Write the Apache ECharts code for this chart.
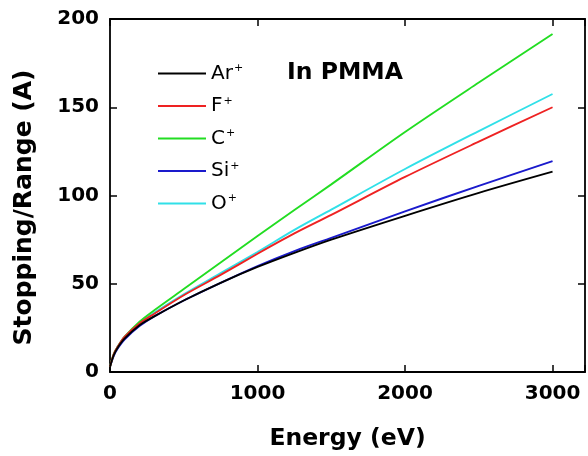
<!DOCTYPE html>
<html>
<head>
<meta charset="utf-8">
<script src="https://cdn.jsdelivr.net/npm/echarts@6/dist/echarts.min.js"></script>
<style>
  html, body { margin: 0; padding: 0; background: #fff; }
  #chart { width: 588px; height: 456px; }
</style>
</head>
<body>
<div id="chart"></div>
<script>
// energies in eV
const energy = [0, 25, 50, 100, 200, 300, 500, 750, 1000, 1250, 1500, 2000, 2500, 3000];
const arData = [3, 9.5, 13.5, 19, 26.5, 31.5, 40.5, 50.5, 59.5, 67.5, 75, 88.5, 101.5, 113.5];
const fData  = [3, 10, 14, 20, 27.5, 33, 43.5, 55, 67, 78.5, 89, 110.5, 130.5, 150];
const cData  = [3, 10, 14, 20, 28.5, 35, 47, 62, 77, 91.8, 106.3, 136, 164, 191.5];
const siData = [3, 9, 13, 18.5, 26, 31.5, 40.5, 50.5, 60, 68.5, 76, 91, 105.5, 119.5];
const oData  = [3, 10, 14, 20, 27.5, 33.5, 44, 56, 68, 80.5, 92, 115, 136.5, 157.5];

const seriesNames = ['Ar', 'F', 'C', 'Si', 'O'];
const seriesColors = ['#000000', '#ee2222', '#22dd22', '#1a1acc', '#30e0e8'];
const seriesValues = [arData, fData, cData, siData, oData];

const font = 'DejaVu Sans, sans-serif';

const chart = echarts.init(document.getElementById('chart'));

const series = seriesNames.map((name, i) => ({
    name: name,
    type: 'line',
    data: energy.map((e, j) => [e, seriesValues[i][j]]),
    smooth: 0.3,
    showSymbol: false,
    lineStyle: { color: seriesColors[i], width: 1.9 },
    itemStyle: { color: seriesColors[i] },
    z: 10 - i
}));

const axisLine = { show: true, onZero: false, lineStyle: { color: '#000', width: 1.8 } };
const axisTick = { show: true, inside: true, length: 7, lineStyle: { color: '#000', width: 1.5 } };

const option = {
    animation: false,
    backgroundColor: '#fff',
    grid: { left: 110, top: 19, right: 1, bottom: 84 },
    title: {
        text: 'In PMMA',
        left: 282,
        top: 56,
        textStyle: { fontFamily: font, fontWeight: 'bold', fontSize: 23.5, color: '#000' }
    },
    legend: {
        orient: 'vertical',
        left: 153,
        top: 58,
        itemWidth: 48,
        itemHeight: 2,
        itemGap: 12,
        icon: 'rect',
        data: seriesNames.map((n, i) => ({ name: n, itemStyle: { color: seriesColors[i] } })),
        formatter: name => name + '{sup|+}',
        textStyle: {
            fontFamily: font,
            fontSize: 20,
            color: '#000',
            rich: {
                sup: { fontFamily: font, fontSize: 11, verticalAlign: 'top', padding: [0, 0, 10, 1], color: '#000' }
            }
        }
    },
    xAxis: [{
        type: 'value',
        min: 0,
        max: 3220,
        interval: 1000,
        name: 'Energy (eV)',
        nameLocation: 'middle',
        nameGap: 55,
        nameTextStyle: { fontFamily: font, fontWeight: 'bold', fontSize: 23.5, color: '#000' },
        axisLine: axisLine,
        axisTick: axisTick,
        axisLabel: {
            fontFamily: font, fontWeight: 'bold', fontSize: 20, color: '#000', margin: 12,
            formatter: v => (v % 1000 === 0 ? v : '')
        },
        splitLine: { show: false }
    }, {
        type: 'value',
        position: 'top',
        min: 0,
        max: 3220,
        interval: 1000,
        axisLine: axisLine,
        axisTick: axisTick,
        axisLabel: { show: false },
        splitLine: { show: false }
    }],
    yAxis: [{
        type: 'value',
        min: 0,
        max: 200,
        interval: 50,
        name: 'Stopping/Range (A)',
        nameLocation: 'middle',
        nameGap: 73,
        nameTextStyle: {
            fontFamily: font, fontWeight: 'bold', fontSize: 25, color: '#000',
            padding: [0, 24, 0, 0]
        },
        axisLine: axisLine,
        axisTick: axisTick,
        axisLabel: { fontFamily: font, fontWeight: 'bold', fontSize: 20, color: '#000', margin: 11 },
        splitLine: { show: false }
    }, {
        type: 'value',
        position: 'right',
        min: 0,
        max: 200,
        interval: 50,
        axisLine: axisLine,
        axisTick: axisTick,
        axisLabel: { show: false },
        splitLine: { show: false }
    }],
    series: series
};

chart.setOption(option);
</script>
</body>
</html>
